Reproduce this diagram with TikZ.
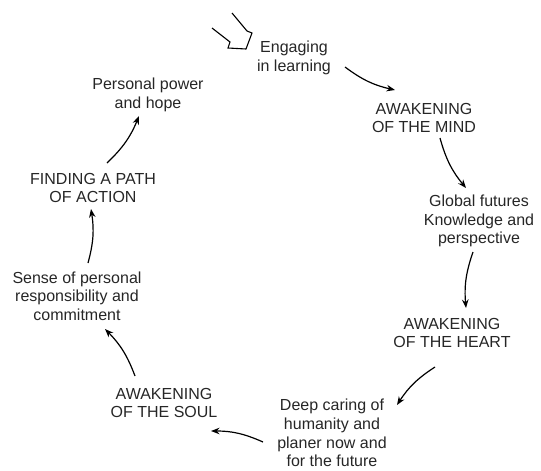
\documentclass[tikz,border=0pt]{standalone}
\usepackage{fontspec}
\setmainfont{Liberation Sans}
\usetikzlibrary{arrows.meta}
\begin{document}
\begin{tikzpicture}[x=1pt,y=-1pt,
  lbl/.style={align=center,inner sep=0pt,font=\fontsize{16}{18.7}\selectfont,text=black!85},
  arr/.style={line width=1.2pt,-{Stealth[length=8.5pt,width=6.5pt]},bend right=12}]
\useasboundingbox (0,0) rectangle (541,471);
\node[lbl] (eng) at (294,58) {Engaging\\in learning};
\node[lbl] (mind) at (424,118) {AWAKENING\\OF THE MIND};
\node[lbl] (glob) at (479,221) {Global futures\\Knowledge and\\perspective};
\node[lbl] (heart) at (452,333) {AWAKENING\\OF THE HEART};
\node[lbl] (deep) at (332,433) {Deep caring of\\humanity and\\planer now and\\for the future};
\node[lbl] (soul) at (164,403) {AWAKENING\\OF THE SOUL};
\node[lbl] (sense) at (77,296) {Sense of personal\\responsibility and\\commitment};
\node[lbl] (find) at (93,188) {FINDING A PATH\\OF ACTION};
\node[lbl] (pers) at (148,95) {Personal power\\and hope};
% connector ends
\coordinate (a1s) at (345,67); \coordinate (a1e) at (395,90);
\coordinate (a2s) at (440,138); \coordinate (a2e) at (466,188);
\coordinate (a3s) at (473,252); \coordinate (a3e) at (466,308);
\coordinate (a4s) at (435,367); \coordinate (a4e) at (397,405);
\coordinate (a5s) at (263,442); \coordinate (a5e) at (211,431);
\coordinate (a6s) at (135,376); \coordinate (a6e) at (105,329);
\coordinate (a7s) at (88,263); \coordinate (a7e) at (91,209);
\coordinate (a8s) at (107,163); \coordinate (a8e) at (139,116);
\draw[arr] (a1s) to (a1e);
\draw[arr] (a2s) to (a2e);
\draw[arr] (a3s) to (a3e);
\draw[arr] (a4s) to (a4e);
\draw[arr] (a5s) to (a5e);
\draw[arr] (a6s) to (a6e);
\draw[arr] (a7s) to (a7e);
\draw[arr] (a8s) to (a8e);
% hollow entry arrow
\coordinate (h1) at (232,13);
\coordinate (h2) at (247,31);
\coordinate (h3) at (252,33);
\coordinate (h4) at (246,49);
\coordinate (h5) at (228,48);
\coordinate (h6) at (230,42);
\coordinate (h7) at (212,28);
\draw[line width=1.1pt,line join=miter] (h1) -- (h2) -- (h3) -- (h4) -- (h5) -- (h6) -- (h7);
\end{tikzpicture}
\end{document}
